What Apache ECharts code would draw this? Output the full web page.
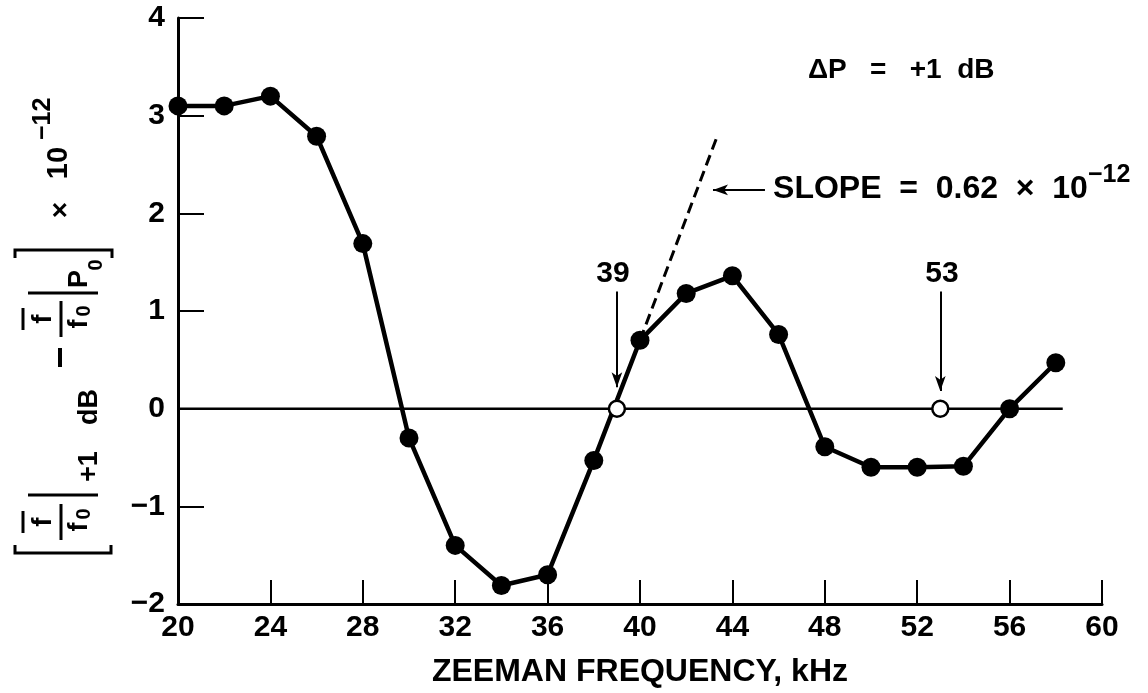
<!DOCTYPE html>
<html>
<head>
<meta charset="utf-8">
<script src="https://cdn.jsdelivr.net/npm/echarts@6/dist/echarts.min.js"></script>
<style>
html,body{margin:0;padding:0;background:#fff;}
#main{width:1148px;height:693px;}
</style>
</head>
<body>
<div id="main"></div>
<script>
// zeeman frequency (kHz) vs fractional frequency shift (x 10^-12)
var freq  = [20, 22, 24, 26, 28, 30, 32, 34, 36, 38, 40, 42, 44, 46, 48, 50, 52, 54, 56, 58];
var shift = [3.1, 3.1, 3.2, 2.79, 1.69, -0.3, -1.4, -1.81, -1.7, -0.53, 0.7, 1.18, 1.36, 0.76, -0.39, -0.6, -0.6, -0.59, 0, 0.47];

// zero crossings (open circles)
var zeroFreq  = [39, 53];
var zeroShift = [0, 0];

// horizontal zero line
var baseFreq  = [20, 58.3];
var baseShift = [0, 0];

// tangent line at 39 kHz
var tanFreq  = [40, 43.36];
var tanShift = [0.7, 2.8];

// arrows: start / tip
var arrowFrom = [[39, 1.2], [53, 1.2], [45.41, 2.24]];
var arrowTo   = [[39, 0.22], [53, 0.18], [43.16, 2.24]];

// text notes
var noteText = ['39', '53', 'SLOPE  =  0.62  \u00d7  10', '\u221212', '\u0394P   =   +1  dB'];
var noteAt   = [[38.83, 1.38], [53.07, 1.38], [45.76, 2.25], [59.39, 2.39], [47.27, 3.46]];
var noteSize = [30, 30, 32, 25, 28];
var noteAlign = ['center', 'center', 'left', 'left', 'left'];

var xMin = 20, xMax = 60, xStep = 4;
var yMin = -2, yMax = 4, yStep = 1;

var FONT = '"Liberation Sans", Arial, sans-serif';

function pairs(a, b) {
  var out = [];
  for (var i = 0; i < a.length; i++) out.push([a[i], b[i]]);
  return out;
}

var chart = echarts.init(document.getElementById('main'));

var arrowLines = [];
for (var i = 0; i < arrowFrom.length; i++) {
  arrowLines.push([{coord: arrowFrom[i]}, {coord: arrowTo[i]}]);
}

var option = {
  animation: false,
  backgroundColor: '#fff',
  grid: {left: 178, right: 46, top: 18, bottom: 80},
  xAxis: {
    type: 'value',
    min: xMin, max: xMax, interval: xStep,
    name: 'ZEEMAN FREQUENCY, kHz',
    nameLocation: 'middle',
    nameGap: 52,
    nameTextStyle: {color: '#000', fontSize: 32, fontWeight: 'bold', fontFamily: FONT},
    axisLine: {onZero: false, lineStyle: {color: '#000', width: 3}},
    axisTick: {inside: true, length: 24, lineStyle: {color: '#000', width: 2}},
    axisLabel: {color: '#000', fontSize: 30, fontWeight: 'bold', fontFamily: FONT, margin: 9},
    splitLine: {show: false}
  },
  yAxis: {
    type: 'value',
    min: yMin, max: yMax, interval: yStep,
    axisLine: {onZero: false, lineStyle: {color: '#000', width: 3}},
    axisTick: {inside: true, length: 26, lineStyle: {color: '#000', width: 2}},
    axisLabel: {
      color: '#000', fontSize: 30, fontWeight: 'bold', fontFamily: FONT, margin: 13,
      formatter: function (v) { return v < 0 ? '\u2212' + Math.abs(v) : String(v); }
    },
    splitLine: {show: false}
  },
  series: [
    {
      type: 'line', z: 1, symbol: 'none', silent: true,
      data: pairs(baseFreq, baseShift),
      lineStyle: {color: '#000', width: 2.5}
    },
    {
      type: 'line', z: 2, symbol: 'none', silent: true,
      data: pairs(tanFreq, tanShift),
      lineStyle: {color: '#000', width: 3, type: [11, 6]}
    },
    {
      type: 'line', z: 3, silent: true,
      data: pairs(freq, shift),
      symbol: 'circle', symbolSize: 19,
      itemStyle: {color: '#000'},
      lineStyle: {color: '#000', width: 4.5}
    },
    {
      type: 'scatter', z: 4, silent: true,
      data: pairs(zeroFreq, zeroShift),
      symbol: 'circle', symbolSize: 16,
      itemStyle: {color: '#fff', opacity: 1, borderColor: '#000', borderWidth: 2.5}
    },
    {
      type: 'line', z: 2, data: [], silent: true,
      markLine: {
        silent: true,
        symbol: ['none', 'arrow'],
        symbolSize: [8, 15],
        label: {show: false},
        lineStyle: {color: '#000', width: 2, type: 'solid'},
        data: arrowLines
      }
    }
  ]
};

chart.setOption(option);

// rotated y-axis title, drawn in a local frame (x runs upward on screen)
function t(s, x, y, size, align) {
  return {
    type: 'text', x: x, y: y,
    style: {
      text: s, fill: '#000', font: 'bold ' + size + 'px ' + FONT,
      align: align || 'center', verticalAlign: 'middle',
      textAlign: align || 'center', textVerticalAlign: 'middle'
    }
  };
}
function ln(x1, y1, x2, y2, w) {
  return {type: 'line', shape: {x1: x1, y1: y1, x2: x2, y2: y2}, style: {stroke: '#000', lineWidth: w}};
}
function frac(c) {
  return [
    ln(c - 11, -37, c + 11, -37, 3),
    t('f', c, -17, 28),
    ln(c - 18, 1, c + 18, 1, 3),
    t('f', c - 5, 20, 27),
    t('0', c + 8, 24, 20)
  ];
}

var yTitle = [].concat(
  [{type: 'polyline', shape: {points: [[12, -45], [4, -45], [4, 51], [12, 51]]}, style: {stroke: '#000', lineWidth: 3, fill: null}}],
  frac(35),
  [ln(62, -32, 62, 38, 3), t('+1', 75, 30, 27, 'left'), t('dB', 132, 30, 27, 'left'),
   ln(190, 0, 209, 0, 4)],
  frac(238),
  [ln(264, -32, 264, 38, 3), t('P', 278, 20, 27), t('0', 292, 36, 20),
   {type: 'polyline', shape: {points: [[299, -45], [307, -45], [307, 52], [299, 52]]}, style: {stroke: '#000', lineWidth: 3, fill: null}},
   t('\u00d7', 347, 1, 28), t('10', 394, -1, 29), t('\u221212', 417, -17, 25, 'left')]
);

var graphics = [{type: 'group', x: 60, y: 557, rotation: Math.PI / 2, children: yTitle}];

for (var k = 0; k < noteText.length; k++) {
  var p = chart.convertToPixel({gridIndex: 0}, noteAt[k]);
  graphics.push({
    type: 'text', x: p[0], y: p[1], z: 10,
    style: {
      text: noteText[k], fill: '#000', font: 'bold ' + noteSize[k] + 'px ' + FONT,
      align: noteAlign[k], verticalAlign: 'middle',
      textAlign: noteAlign[k], textVerticalAlign: 'middle'
    }
  });
}

chart.setOption({graphic: graphics});
</script>
</body>
</html>
